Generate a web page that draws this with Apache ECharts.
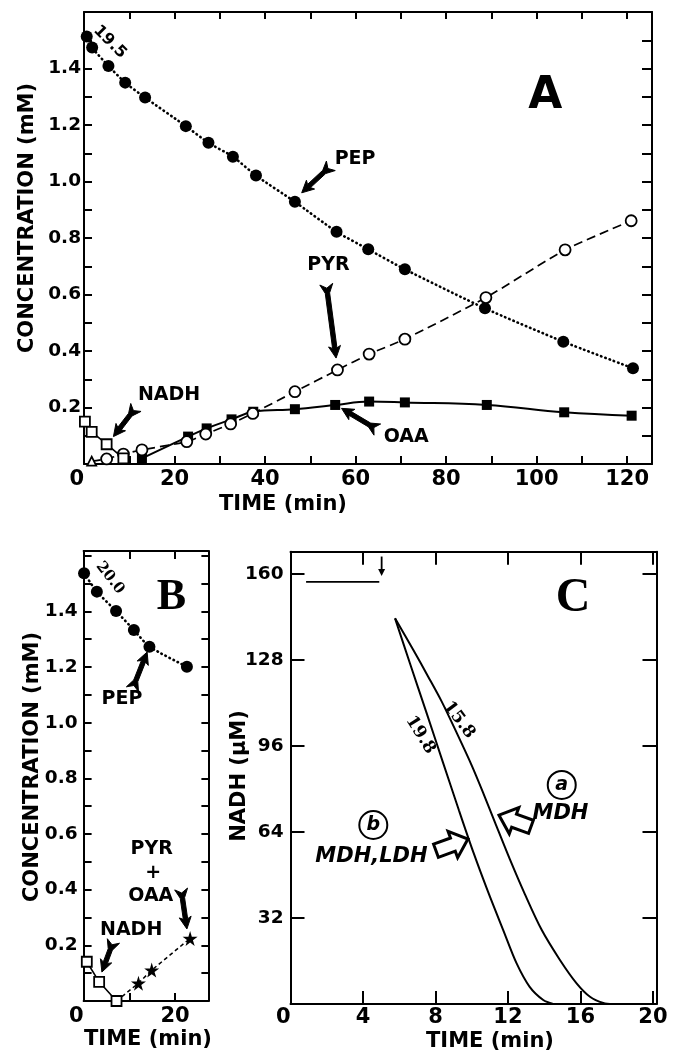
<!DOCTYPE html>
<html><head><meta charset="utf-8">
<script src="https://cdn.jsdelivr.net/npm/echarts@6/dist/echarts.min.js"></script>
<style>html,body{margin:0;padding:0;background:#fff}#c{width:684px;height:1053px}</style>
</head><body><div id="c"></div><script>
// ---------- Panel A (time in min, concentration in mM) ----------
const pepA  = [[0.6,1.513],[1.8,1.474],[5.4,1.409],[9.1,1.350],[13.5,1.297],[22.5,1.196],[27.5,1.137],[32.9,1.088],[38.0,1.021],[46.6,0.928],[55.8,0.822],[62.8,0.760],[70.9,0.689],[88.6,0.551],[105.9,0.433],[121.3,0.339]];
const pyrA  = [[1.7,0.010],[5.0,0.018],[8.7,0.035],[12.8,0.050],[22.7,0.079],[26.9,0.106],[32.4,0.142],[37.3,0.179],[46.6,0.256],[56.0,0.333],[63.0,0.389],[70.9,0.442],[88.8,0.589],[106.3,0.758],[120.9,0.861]];
const oaaA  = [[12.8,0.020],[23.0,0.097],[27.1,0.126],[32.6,0.158],[37.4,0.185],[46.6,0.194],[55.5,0.209],[63.0,0.221],[70.9,0.218],[89.0,0.209],[106.1,0.183],[121.0,0.171]];
const nadhA = [[0.2,0.150],[1.7,0.114],[5.0,0.070],[8.7,0.020]];
// ---------- Panel B ----------
const pepB   = [[0.1,1.537],[2.9,1.471],[7.1,1.401],[11.0,1.333],[14.4,1.273],[22.6,1.201]];
const nadhB  = [[0.7,0.141],[3.4,0.069],[7.2,0.0]];
const starsB = [[12.0,0.064],[14.9,0.111],[23.3,0.225]];
// ---------- Panel C (NADH in uM) ----------
const preC     = [[0.86,157.1],[4.9,157.1]];
const curve158 = [[5.77,143.5],[6.78,131.7],[7.6,121.8],[8.34,112.6],[9.2,100.5],[10.0,88.8],[10.65,78.3],[11.29,67.5],[12.11,53.8],[12.94,40.8],[13.86,27.6],[14.87,16.4],[15.79,7.7],[16.53,2.7],[17.26,0.4],[17.8,0]];
const curve198 = [[5.77,143.5],[6.6,126.6],[7.5,108.5],[8.4,90.2],[9.3,72.0],[10.1,56.3],[10.9,41.8],[11.74,27.5],[12.48,15.1],[13.2,6.4],[13.95,1.5],[14.5,0]];
// tick label sets
const xLabelsA = [0,20,40,60,80,100,120];
const yLabelsAB = [0.2,0.4,0.6,0.8,1.0,1.2,1.4];
const xLabelsB = [0,20];
const xLabelsC = [0,4,8,12,16,20];
const yLabelsC = [32,64,96,128,160];

const F = 'DejaVu Sans';
const K = '#000';
function lab(list, dec){ return v => { const m = list.find(x => Math.abs(x - v) < 1e-6); return m === undefined ? '' : (dec ? m.toFixed(dec) : String(m)); }; }
function xAx(grid, max, interval, labels, opts){
  return Object.assign({ type:'value', gridIndex:grid, min:0, max:max, interval:interval,
    axisLine:{show:true, onZero:false, lineStyle:{color:K, width:2}},
    axisTick:{show:true, inside:true, length:8, lineStyle:{color:K, width:2}},
    splitLine:{show:false},
    axisLabel:{show:!!labels, formatter: labels ? lab(labels) : '', color:K, fontFamily:F, fontWeight:'bold', fontSize:21, margin:5, alignMinLabel:'right'}
  }, opts||{});
}
function yAx(grid, max, interval, labels, dec, opts){
  return Object.assign({ type:'value', gridIndex:grid, min:0, max:max, interval:interval,
    axisLine:{show:true, onZero:false, lineStyle:{color:K, width:2}},
    axisTick:{show:true, inside:true, length:8, lineStyle:{color:K, width:2}},
    splitLine:{show:false},
    axisLabel:{show:!!labels, formatter: labels ? lab(labels, dec) : '', color:K, fontFamily:F, fontWeight:'bold', fontSize:18.5, margin:3}
  }, opts||{});
}
const openSym = {color:'#fff', borderColor:K, borderWidth:1.8};
const star = 'path://M50,0 L61,35 L98,35 L68,57 L79,91 L50,70 L21,91 L32,57 L2,35 L39,35 Z';

const chart = echarts.init(document.getElementById('c'), null, {renderer:'canvas'});
const option = {
  animation:false, backgroundColor:'#fff',
  grid:[
    {left:84, top:12, width:568, height:452, containLabel:false, outerBoundsMode:'none'},
    {left:83.6, top:551, width:124.8, height:450, containLabel:false, outerBoundsMode:'none'},
    {left:290.5, top:551.7, width:366, height:452.3, containLabel:false, outerBoundsMode:'none'}
  ],
  xAxis:[
    xAx(0, 125.5, 10, xLabelsA),
    xAx(0, 125.5, 10, null, {position:'top', axisTick:{show:true, inside:true, length:7, lineStyle:{color:K,width:2}}}),
    xAx(1, 27.3, 10, xLabelsB),
    xAx(1, 27.3, 10, null, {position:'top'}),
    xAx(2, 20.2, 4, xLabelsC, {axisTick:{show:true, inside:true, length:13, lineStyle:{color:K,width:2}}, axisLabel:{formatter:lab(xLabelsC), color:K, fontFamily:F, fontWeight:'bold', fontSize:21, margin:3, alignMinLabel:'right'}}),
    xAx(2, 20.2, 4, null, {position:'top', axisTick:{show:true, inside:true, length:13, lineStyle:{color:K,width:2}}})
  ],
  yAxis:[
    yAx(0, 1.6, 0.1, yLabelsAB, 1),
    yAx(0, 1.6, 0.1, null, 0, {position:'right', axisTick:{show:true, inside:true, length:10, lineStyle:{color:K,width:2}}}),
    yAx(1, 1.617, 0.1, yLabelsAB, 1, {axisLabel:{formatter:lab(yLabelsAB,1), color:K, fontFamily:F, fontWeight:'bold', fontSize:18.5, margin:6}}),
    yAx(1, 1.617, 0.1, null, 0, {position:'right', axisTick:{show:true, inside:true, length:7, lineStyle:{color:K,width:2}}}),
    yAx(2, 168.3, 32, yLabelsC, 0, {axisTick:{show:true, inside:true, length:14, lineStyle:{color:K,width:2}}, axisLabel:{formatter:lab(yLabelsC), color:K, fontFamily:F, fontWeight:'bold', fontSize:18.5, margin:7}}),
    yAx(2, 168.3, 32, null, 0, {position:'right', axisTick:{show:true, inside:true, length:14, lineStyle:{color:K,width:2}}})
  ],
  series:[
    {name:'PEP A', type:'line', xAxisIndex:0, yAxisIndex:0, data:pepA, symbol:'circle', symbolSize:12, smooth:0.2,
      itemStyle:{color:K}, lineStyle:{color:K, width:2.6, type:[0.5,4], cap:'round'}, z:3},
    {name:'PYR A', type:'line', xAxisIndex:0, yAxisIndex:0,
      data:[{value:pyrA[0], symbol:'triangle', symbolSize:9}].concat(pyrA.slice(1)), symbol:'circle', symbolSize:11, smooth:0.2,
      itemStyle:openSym, lineStyle:{color:K, width:1.7, type:[9,5]}, z:4},
    {name:'OAA A', type:'line', xAxisIndex:0, yAxisIndex:0, data:oaaA, symbol:'rect', symbolSize:10, smooth:0.4,
      itemStyle:{color:K}, lineStyle:{color:K, width:2}, z:3},
    {name:'NADH A', type:'line', xAxisIndex:0, yAxisIndex:0, data:nadhA, symbol:'rect', symbolSize:10,
      itemStyle:openSym, lineStyle:{color:K, width:1.6}, z:4},
    {name:'PEP B', type:'line', xAxisIndex:2, yAxisIndex:2, data:pepB, symbol:'circle', symbolSize:12, smooth:0.2,
      itemStyle:{color:K}, lineStyle:{color:K, width:2.6, type:[0.5,4], cap:'round'}},
    {name:'NADH B', type:'line', xAxisIndex:2, yAxisIndex:2, data:nadhB, symbol:'rect', symbolSize:10,
      itemStyle:openSym, lineStyle:{color:K, width:1.6}, z:4},
    {name:'PYR+OAA B', type:'line', xAxisIndex:2, yAxisIndex:2,
      data:[{value:nadhB[nadhB.length-1], symbol:'none'}].concat(starsB), symbol:star, symbolSize:15,
      itemStyle:{color:K}, lineStyle:{color:K, width:1.5, type:[4,3]}},
    {name:'baseline C', type:'line', xAxisIndex:4, yAxisIndex:4, data:preC, symbol:'none', lineStyle:{color:K, width:1.8}},
    {name:'15.8', type:'line', xAxisIndex:4, yAxisIndex:4, data:curve158, symbol:'none', smooth:0.3, lineStyle:{color:K, width:2}},
    {name:'19.8', type:'line', xAxisIndex:4, yAxisIndex:4, data:curve198, symbol:'none', smooth:0.3, lineStyle:{color:K, width:2}}
  ]
};
chart.setOption(option);

// ---------- annotations (positions given in data coordinates) ----------
const AX = [[0,0],[2,2],[4,4]];
function P(g, pt){ return chart.convertToPixel({xAxisIndex:AX[g][0], yAxisIndex:AX[g][1]}, pt); }
const G = [];
function tstyle(text, f){ return {text:text, x:0, y:0, fontFamily:f.family, fontSize:f.size, fontWeight:'bold', fontStyle:f.italic?'italic':'normal', fill:K, textAlign:'center', textVerticalAlign:'middle', align:'center', verticalAlign:'middle'}; }
function txt(g, pt, text, f, rot){
  const p = P(g, pt);
  G.push({type:'text', x:p[0], y:p[1], rotation:(rot||0)*Math.PI/180, z:50, style:tstyle(text, f)});
}
function ptxt(x, y, text, f, rot){
  G.push({type:'text', x:x, y:y, rotation:(rot||0)*Math.PI/180, z:50, style:tstyle(text, f)});
}
function fletch(g, tailD, tipD){
  const t = P(g, tailD), h = P(g, tipD);
  const dx = h[0]-t[0], dy = h[1]-t[1], L = Math.hypot(dx,dy), ux = dx/L, uy = dy/L, vx = -uy, vy = ux;
  const loc = [[L,0],[L-12,6],[L-10,2.2],[10,2.2],[1,6.5],[5,0],[1,-6.5],[10,-2.2],[L-10,-2.2],[L-12,-6]];
  const pts = loc.map(([u,v]) => [t[0]+u*ux+v*vx, t[1]+u*uy+v*vy]);
  G.push({type:'polygon', shape:{points:pts}, style:{fill:K, stroke:K, lineWidth:1}, z:50});
}
function block(g, cD, angDeg){
  const c = P(g, cD), a = angDeg*Math.PI/180, ux = Math.cos(a), uy = -Math.sin(a), vx = -uy, vy = ux;
  const L = 34, hl = 16, hw = 14, sw = 7;
  const loc = [[L/2,0],[L/2-hl,hw],[L/2-hl,sw],[-L/2,sw],[-L/2,-sw],[L/2-hl,-sw],[L/2-hl,-hw]];
  const pts = loc.map(([u,v]) => [c[0]+u*ux+v*vx, c[1]+u*uy+v*vy]);
  G.push({type:'polygon', shape:{points:pts}, style:{fill:'#fff', stroke:K, lineWidth:3, lineJoin:'miter'}, z:50});
}
function circ(g, cD, letter){
  const c = P(g, cD);
  G.push({type:'circle', shape:{cx:c[0], cy:c[1], r:14}, style:{fill:'#fff', stroke:K, lineWidth:2}, z:50});
  G.push({type:'text', x:c[0], y:c[1], z:51, style:tstyle(letter, {family:F, size:19, italic:true})});
}
const sans = s => ({family:F, size:s});
const serif = s => ({family:'Liberation Serif', size:s});
const dserif = s => ({family:'DejaVu Serif', size:s});
const ital = s => ({family:F, size:s, italic:true});
// Panel A
txt(0, [5.7,1.494], '19.5', sans(16), -45);
txt(0, [101.9,1.301], 'A', sans(44));
txt(0, [59.9,1.080], 'PEP', sans(19));   fletch(0, [54.7,1.058], [48.1,0.960]);
txt(0, [54.0,0.705], 'PYR', sans(19));   fletch(0, [53.5,0.640], [55.7,0.375]);
txt(0, [18.8,0.244], 'NADH', sans(19));  fletch(0, [11.6,0.203], [6.5,0.097]);
txt(0, [71.2,0.094], 'OAA', sans(19));   fletch(0, [65.0,0.120], [56.9,0.197]);
// Panel B
txt(1, [5.8,1.520], '20.0', dserif(15), -52);
txt(1, [19.2,1.450], 'B', serif(44));
txt(1, [8.4,1.085], 'PEP', sans(19));    fletch(1, [10.6,1.117], [13.9,1.254]);
txt(1, [14.9,0.546], 'PYR', sans(19));
txt(1, [15.2,0.460], '+', sans(19));
txt(1, [14.7,0.377], 'OAA', sans(19));   fletch(1, [21.3,0.406], [22.6,0.259]);
txt(1, [10.4,0.255], 'NADH', sans(19));  fletch(1, [6.6,0.219], [4.0,0.104]);
// Panel C
txt(2, [15.6,150.9], 'C', serif(48));
txt(2, [9.3,105.7], '15.8', dserif(17), -53);
txt(2, [7.17,100.1], '19.8', dserif(17), -58);
circ(2, [14.97,81.5], 'a');
circ(2, [4.57,66.6], 'b');
txt(2, [14.9,70.9], 'MDH', ital(21));
txt(2, [4.47,54.9], 'MDH,LDH', ital(21));
block(2, [12.39,68.1], 160);
block(2, [8.91,59.2], 20);
(function(){ const a = P(2,[5.03,166.5]), b = P(2,[5.03,159.3]);
  G.push({type:'line', shape:{x1:a[0], y1:a[1], x2:b[0], y2:b[1]-5}, style:{stroke:K, lineWidth:1.8}, z:50});
  G.push({type:'polygon', shape:{points:[[b[0]-3.5,b[1]-7],[b[0]+3.5,b[1]-7],[b[0],b[1]]]}, style:{fill:K}, z:50});
})();
// axis titles
ptxt(28, 218, 'CONCENTRATION (mM)', sans(21), 90);
ptxt(283, 505, 'TIME (min)', sans(21));
ptxt(33, 767, 'CONCENTRATION (mM)', sans(21), 90);
ptxt(148, 1040, 'TIME (min)', sans(21));
ptxt(240, 776, 'NADH (\u03BCM)', sans(21), 90);
ptxt(490, 1042, 'TIME (min)', sans(21));
chart.setOption({graphic:G});
</script></body></html>
